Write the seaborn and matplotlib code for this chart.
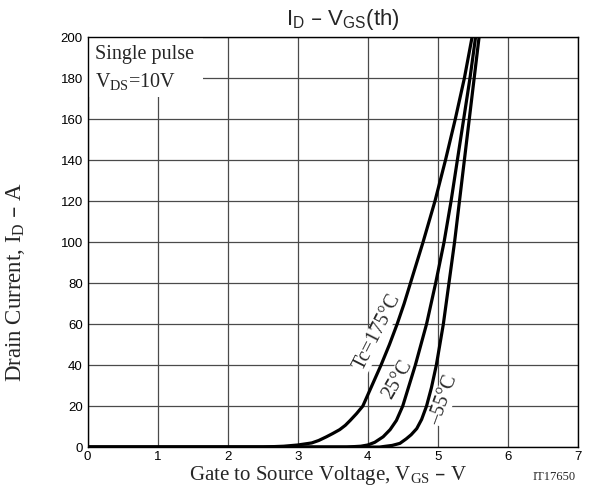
import matplotlib
matplotlib.use("Agg")
import matplotlib.pyplot as plt
import matplotlib.patches as mpatches
import seaborn as sns
import pandas as pd

# ---- data ----
v_175 = [0, 2.5, 2.8, 3.0, 3.2, 3.3, 3.41, 3.5, 3.6, 3.68, 3.75, 3.84, 3.93, 4.06, 4.19, 4.31, 4.42, 4.52, 4.61, 4.79, 4.96, 5.11, 5.25, 5.38, 5.49]
i_175 = [0, 0, 0.4, 1, 2, 3.2, 5, 6.6, 8.5, 10.6, 13, 16.3, 20, 30, 40, 50, 60, 70, 80, 100, 120, 140, 160, 180, 200]

v_25 = [0, 3.7, 3.9, 4.0, 4.1, 4.22, 4.32, 4.41, 4.50, 4.59, 4.68, 4.76, 4.84, 4.97, 5.09, 5.19, 5.28, 5.37, 5.46, 5.54]
i_25 = [0, 0, 0.4, 1, 2.3, 5, 8.5, 13, 20, 30, 40, 50, 60, 80, 100, 120, 140, 160, 180, 200]

v_m55 = [0, 4.17, 4.35, 4.46, 4.55, 4.62, 4.70, 4.77, 4.84, 4.91, 4.98, 5.03, 5.08, 5.16, 5.24, 5.31, 5.38, 5.45, 5.52, 5.59]
i_m55 = [0, 0, 0.8, 1.8, 4, 6, 9, 13.5, 20, 29, 40, 50, 60, 80, 100, 120, 140, 160, 180, 200]

curve_names = ["Tc=175°C", "25°C", "\u201355°C"]
x_ticks = [0, 1, 2, 3, 4, 5, 6, 7]
y_ticks = [0, 20, 40, 60, 80, 100, 120, 140, 160, 180, 200]

df = pd.concat([
    pd.DataFrame({"V": v_175, "I": i_175, "curve": curve_names[0]}),
    pd.DataFrame({"V": v_25, "I": i_25, "curve": curve_names[1]}),
    pd.DataFrame({"V": v_m55, "I": i_m55, "curve": curve_names[2]}),
])

sns.set_style("white")
plt.rcParams["font.family"] = ["Liberation Sans", "DejaVu Sans"]
plt.rcParams["mathtext.default"] = "regular"

SERIF = ["Liberation Serif", "DejaVu Serif"]

fig = plt.figure(figsize=(5.92, 5.04), dpi=100)
ax = fig.add_axes([0.148, 0.113, 0.828, 0.813])

for name in curve_names:
    sub = df[df["curve"] == name]
    sns.lineplot(data=sub, x="V", y="I", ax=ax, color="black", linewidth=2.3,
                 estimator=None, sort=False, legend=False, zorder=4)

ax.set_xlim(0, 7)
ax.set_ylim(0, 200)
ax.set_xticks(x_ticks)
ax.set_yticks(y_ticks)
ax.set_xticklabels([str(t) for t in x_ticks])
ax.set_yticklabels([str(t) for t in y_ticks])
ax.tick_params(axis="both", length=0, labelsize=9.5, colors="black")
ax.tick_params(axis="x", pad=2.5)
ax.tick_params(axis="y", pad=3.5)
ax.set_xlabel("")
ax.set_ylabel("")

ax.set_axisbelow(True)
ax.grid(True, color="#4a4a4a", linewidth=0.9)
for s in ax.spines.values():
    s.set_color("black")
    s.set_linewidth(1.0)

# white box for the condition note
ax.add_patch(mpatches.Rectangle((0, 171), 1.65, 29, facecolor="white",
                                edgecolor="none", zorder=1))
ax.text(0.1, 191.5, "Single pulse", family=SERIF, fontsize=14.5,
        ha="left", va="center", zorder=3)
ax.text(0.1, 178.5, "V$_{DS}$=10V", family=SERIF, fontsize=14.5,
        ha="left", va="center", zorder=3)

# curve labels
lbl_box = dict(facecolor="white", edgecolor="none", pad=0.3)
ax.text(4.14, 56, curve_names[0], family=SERIF, fontsize=14.5, rotation=63,
        ha="center", va="center", bbox=lbl_box, zorder=3)
ax.text(4.43, 33, curve_names[1], family=SERIF, fontsize=14.5, rotation=60,
        ha="center", va="center", bbox=lbl_box, zorder=3)
ax.text(5.09, 23, curve_names[2], family=SERIF, fontsize=14.5, rotation=70,
        ha="center", va="center", bbox=lbl_box, zorder=3)

# title and axis labels
fig.text(0.579, 0.950, "I$_{D}$ \u2013 V$_{GS}$(th)", fontsize=16,
         family=["Liberation Sans", "DejaVu Sans"], ha="center", va="baseline")
fig.text(0.554, 0.0476, "Gate to Source Voltage, V$_{GS}$ \u2013 V",
         family=SERIF, fontsize=15, ha="center", va="baseline")
fig.text(0.973, 0.0476, "IT17650", family=SERIF, fontsize=9,
         ha="right", va="baseline")
fig.text(0.027, 0.44, "Drain Current, I$_{D}$ \u2013 A", family=SERIF,
         fontsize=16.5, rotation=90, ha="center", va="center")

fig.savefig("out.png", dpi=100)
